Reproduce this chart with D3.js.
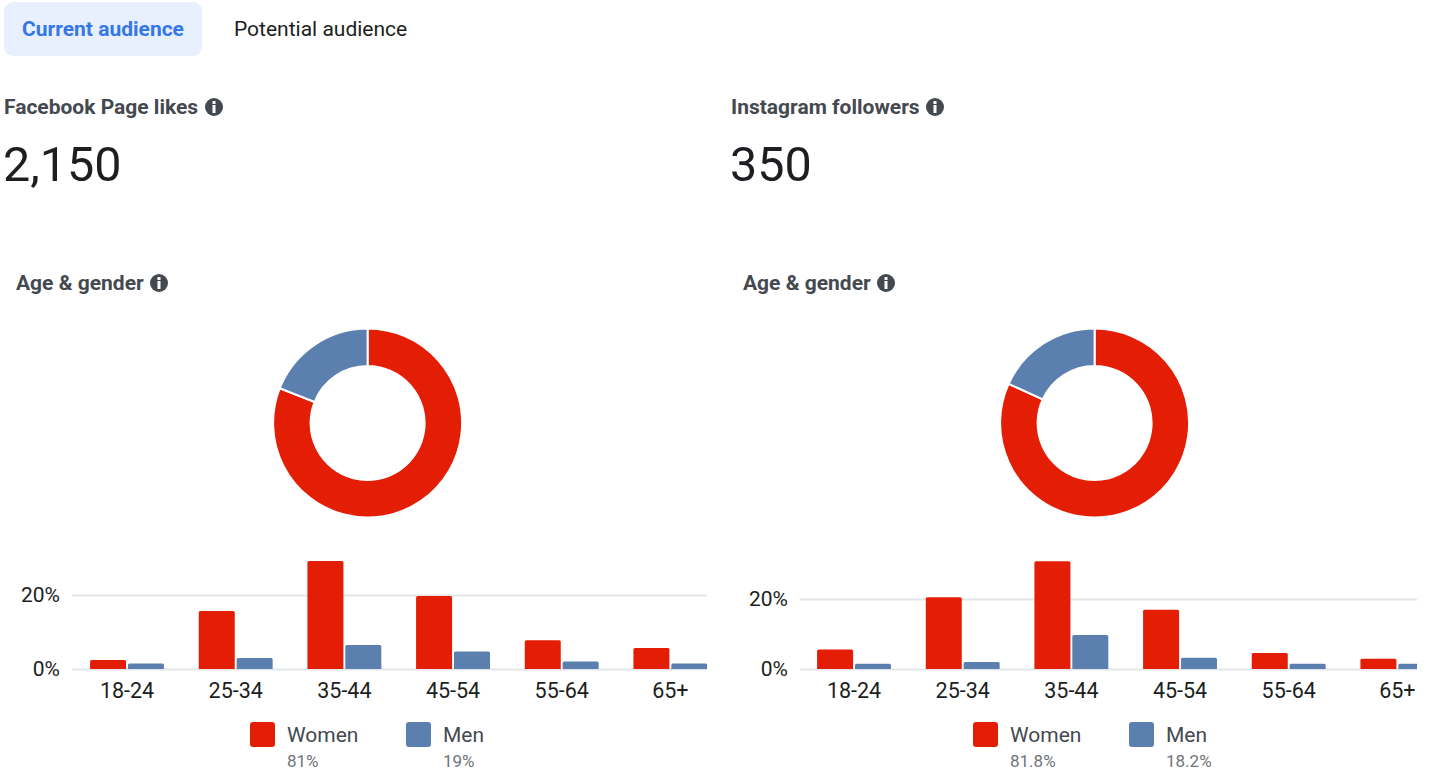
<!DOCTYPE html>
<html>
<head>
<meta charset="utf-8">
<script src="https://cdn.jsdelivr.net/npm/d3@7"></script>
<style>
  html, body { margin: 0; padding: 0; background: #fff; overflow: hidden; }
  text { font-family: Roboto, sans-serif; }
</style>
</head>
<body>
<div id="chart-area"></div>
<script>
// Data
const AGES = ['18-24', '25-34', '35-44', '45-54', '55-64', '65+']
const GENDERS = ['Women', 'Men']
const FB_WOMEN = [2.4, 15.7, 29.2, 19.7, 7.8, 5.7]
const FB_MEN = [1.5, 3, 6.5, 4.7, 2, 1.5]
const IG_WOMEN = [5.6, 20.5, 30.8, 16.9, 4.6, 2.9]
const IG_MEN = [1.5, 2, 9.7, 3.2, 1.5, 1.5]
const FB_SHARE = [81, 19]
const IG_SHARE = [81.8, 18.2]
const FB_SHARE_LABELS = ['81%', '19%']
const IG_SHARE_LABELS = ['81.8%', '18.2%']
const Y_TICKS = [0, 20]

const RED = '#e41e05'
const BLUE = '#5b7fae'

const svg = d3.select('#chart-area').append('svg')
  .attr('width', 1430)
  .attr('height', 771)

// Tabs
svg.append('rect')
  .attr('x', 4).attr('y', 2)
  .attr('width', 198).attr('height', 54)
  .attr('rx', 9)
  .attr('fill', '#e8f0fd')
svg.append('text')
  .attr('x', 103).attr('y', 36)
  .attr('text-anchor', 'middle')
  .attr('font-size', '21px').attr('font-weight', 700)
  .attr('fill', '#3578e5')
  .text('Current audience')
svg.append('text')
  .attr('x', 234).attr('y', 36)
  .attr('font-size', '21px')
  .attr('fill', '#1c1e21')
  .text('Potential audience')

function infoIcon(cx, cy) {
  const g = svg.append('g').attr('transform', `translate(${cx}, ${cy})`)
  g.append('circle').attr('r', 9).attr('fill', '#444950')
  g.append('rect').attr('x', -1.5).attr('y', -6).attr('width', 3).attr('height', 3).attr('fill', '#fff')
  g.append('rect').attr('x', -1.5).attr('y', -2).attr('width', 3).attr('height', 8).attr('fill', '#fff')
}

function heading(x, y, label, iconX) {
  svg.append('text')
    .attr('x', x).attr('y', y)
    .attr('font-size', '21px')
    .attr('font-weight', 700)
    .attr('fill', '#444950')
    .text(label)
  infoIcon(iconX, y - 7)
}

function drawPanel(p) {
  heading(p.left, 114, p.title, p.titleIcon)

  svg.append('text')
    .attr('x', p.left - 1).attr('y', 181)
    .attr('font-size', '48.5px')
    .attr('fill', '#1c1e21')
    .text(p.total)

  heading(p.left + 12, 290, 'Age & gender', p.left + 155)

  // Donut
  const pie = d3.pie().sort(null)
  const arc = d3.arc().innerRadius(57).outerRadius(94.5)
  svg.append('g')
    .attr('transform', `translate(${p.cx}, 423)`)
    .selectAll('path')
    .data(pie(p.share))
    .enter().append('path')
    .attr('d', arc)
    .attr('fill', (d, i) => i === 0 ? RED : BLUE)
    .attr('stroke', '#fff')
    .attr('stroke-width', 2)

  // Bars
  const x = d3.scaleBand()
    .domain(AGES)
    .range([p.bandLeft, p.bandLeft + 652])
    .paddingInner(0.32)
    .paddingOuter(0.16)
  const xSub = d3.scaleBand()
    .domain(GENDERS)
    .range([0, x.bandwidth()])
    .paddingInner(0.05)
  const y = d3.scaleLinear()
    .domain([0, 20])
    .range([669, p.y20])

  const clipId = 'clip-' + p.key
  svg.append('clipPath').attr('id', clipId)
    .append('rect')
    .attr('x', p.plotLeft).attr('y', 540)
    .attr('width', p.plotRight - p.plotLeft).attr('height', 140)

  const yAxis = svg.append('g')
    .attr('transform', `translate(${p.plotLeft}, 0)`)
    .call(d3.axisLeft(y).tickValues(Y_TICKS).tickFormat(d => d + '%')
      .tickSize(-(p.plotRight - p.plotLeft)).tickPadding(12))
  yAxis.select('.domain').remove()
  yAxis.selectAll('line').attr('stroke', '#e4e6e8').attr('stroke-width', 2)
  yAxis.selectAll('text')
    .attr('font-size', '21px')
    .attr('font-family', 'Roboto, sans-serif')
    .attr('fill', '#1c1e21')

  const bars = svg.append('g').attr('clip-path', `url(#${clipId})`)
  const series = [p.women, p.men]
  series.forEach((values, s) => {
    bars.selectAll('path.s' + s)
      .data(values)
      .enter().append('path')
      .attr('class', 's' + s)
      .attr('d', (d, i) => {
        const bx = x(AGES[i]) + xSub(GENDERS[s])
        const w = xSub.bandwidth()
        const top = y(d)
        const path = d3.path()
        path.moveTo(bx, y(0))
        path.lineTo(bx, top + 1.5)
        path.arcTo(bx, top, bx + 1.5, top, 1.5)
        path.lineTo(bx + w - 1.5, top)
        path.arcTo(bx + w, top, bx + w, top + 1.5, 1.5)
        path.lineTo(bx + w, y(0))
        path.closePath()
        return path.toString()
      })
      .attr('fill', s === 0 ? RED : BLUE)
  })

  const xAxis = svg.append('g')
    .attr('transform', 'translate(0, 669)')
    .call(d3.axisBottom(x).tickSize(0).tickPadding(14))
  xAxis.select('.domain').remove()
  xAxis.selectAll('text')
    .attr('font-size', '21.5px')
    .attr('font-family', 'Roboto, sans-serif')
    .attr('fill', '#1c1e21')

  // Legend
  GENDERS.forEach((name, i) => {
    const lx = p.legendX[i]
    svg.append('rect')
      .attr('x', lx).attr('y', 722)
      .attr('width', 25).attr('height', 25)
      .attr('rx', 3)
      .attr('fill', i === 0 ? RED : BLUE)
    svg.append('text')
      .attr('x', lx + 37).attr('y', 742)
      .attr('font-size', '21px')
      .attr('fill', '#444950')
      .text(name)
    svg.append('text')
      .attr('x', lx + 37).attr('y', 767)
      .attr('font-size', '17px')
      .attr('fill', '#70757a')
      .text(p.shareLabels[i])
  })
}

drawPanel({
  key: 'fb', title: 'Facebook Page likes', total: '2,150', left: 4, titleIcon: 214, cx: 367.6,
  share: FB_SHARE, shareLabels: FB_SHARE_LABELS, women: FB_WOMEN, men: FB_MEN,
  bandLeft: 72.7, plotLeft: 72, plotRight: 707, y20: 595, legendX: [250, 406]
})
drawPanel({
  key: 'ig', title: 'Instagram followers', total: '350', left: 731, titleIcon: 935, cx: 1094.6,
  share: IG_SHARE, shareLabels: IG_SHARE_LABELS, women: IG_WOMEN, men: IG_MEN,
  bandLeft: 799.7, plotLeft: 800, plotRight: 1417, y20: 599, legendX: [973, 1129]
})
</script>
</body>
</html>
